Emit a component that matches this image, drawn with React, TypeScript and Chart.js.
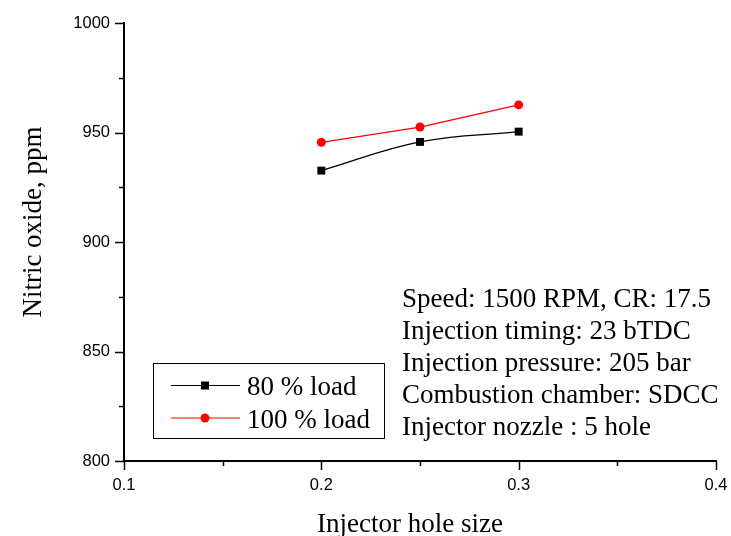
import React, { useEffect, useRef } from 'react';
import { Chart, registerables } from 'chart.js';

Chart.register(...registerables);

// ---- Data ----
const holeSizes = [0.2, 0.25, 0.3];
const nox80Load = [932.6, 945.7, 950.4];
const nox100Load = [945.5, 952.5, 962.6];
const seriesLabels = ['80 % load', '100 % load'];
const xAxisTitle = 'Injector hole size';
const yAxisTitle = 'Nitric oxide, ppm';
const infoLines = [
  'Speed: 1500 RPM, CR: 17.5',
  'Injection timing: 23 bTDC',
  'Injection pressure: 205 bar',
  'Combustion chamber: SDCC',
  'Injector nozzle : 5 hole',
];
const xRange = [0.1, 0.4];
const yRange = [800, 1000];

const SERIF = "'Liberation Serif', 'Times New Roman', serif";
const SANS = "'Liberation Sans', Arial, sans-serif";

const decorPlugin = {
  id: 'decor',
  afterDraw(chart: any) {
    const ctx = chart.ctx;
    const xs = chart.scales.x;
    const ys = chart.scales.y;
    const ca = chart.chartArea;
    ctx.save();
    ctx.strokeStyle = '#000';
    ctx.lineWidth = 1.5;
    // y ticks (major every 50, minor every 25)
    for (let i = 0; i <= 8; i++) {
      const v = yRange[0] + i * 25;
      const p = Math.round(ys.getPixelForValue(v)) + 0.5;
      const len = i % 2 === 0 ? 9 : 5;
      ctx.beginPath();
      ctx.moveTo(ca.left - len, p);
      ctx.lineTo(ca.left, p);
      ctx.stroke();
    }
    // x ticks (major every 0.1, minor every 0.05)
    for (let i = 0; i <= 6; i++) {
      const v = xRange[0] + i * 0.05;
      const p = Math.round(xs.getPixelForValue(v)) + 0.5;
      const len = i % 2 === 0 ? 9 : 5;
      ctx.beginPath();
      ctx.moveTo(p, ca.bottom);
      ctx.lineTo(p, ca.bottom + len);
      ctx.stroke();
    }

    // axis titles
    ctx.fillStyle = '#000';
    ctx.font = `27px ${SERIF}`;
    ctx.textAlign = 'center';
    ctx.textBaseline = 'alphabetic';
    ctx.fillText(xAxisTitle, 410, 532);
    ctx.save();
    ctx.translate(41, 222);
    ctx.rotate(-Math.PI / 2);
    ctx.fillText(yAxisTitle, 0, 0);
    ctx.restore();

    // info text
    ctx.textAlign = 'left';
    infoLines.forEach((line, i) => {
      ctx.fillText(line, 402, 306.5 + i * 32.2);
    });

    // legend
    ctx.lineWidth = 1;
    ctx.strokeStyle = '#000';
    ctx.fillStyle = '#fff';
    ctx.fillRect(153.5, 363.5, 231, 75);
    ctx.strokeRect(153.5, 363.5, 231, 75);
    chart.data.datasets.forEach((ds: any, i: number) => {
      const cy = 385.5 + i * 32.5;
      ctx.strokeStyle = ds.borderColor;
      ctx.lineWidth = 1.2;
      ctx.beginPath();
      ctx.moveTo(171, cy);
      ctx.lineTo(240, cy);
      ctx.stroke();
      ctx.fillStyle = ds.pointBackgroundColor;
      if (ds.pointStyle === 'rect') {
        ctx.fillRect(201, cy - 4, 8, 8);
      } else {
        ctx.beginPath();
        ctx.arc(205, cy, 4.5, 0, Math.PI * 2);
        ctx.fill();
      }
      ctx.fillStyle = '#000';
      ctx.font = `27px ${SERIF}`;
      ctx.fillText(ds.label, 247, cy + 9.5);
    });
    ctx.restore();
  },
};

export default function App() {
  const canvasRef = useRef<HTMLCanvasElement | null>(null);

  useEffect(() => {
    if (!canvasRef.current) return;
    const chart = new Chart(canvasRef.current, {
      type: 'line',
      data: {
        datasets: [
          {
            label: seriesLabels[0],
            data: holeSizes.map((x, i) => ({ x, y: nox80Load[i] })),
            borderColor: '#000000',
            backgroundColor: '#000000',
            pointBackgroundColor: '#000000',
            pointBorderColor: '#000000',
            pointStyle: 'rect',
            pointRadius: 5.6,
            pointBorderWidth: 0,
            borderWidth: 1.3,
            tension: 0.4,
            fill: false,
          },
          {
            label: seriesLabels[1],
            data: holeSizes.map((x, i) => ({ x, y: nox100Load[i] })),
            borderColor: '#ff0000',
            backgroundColor: '#ff0000',
            pointBackgroundColor: '#ff0000',
            pointBorderColor: '#ff0000',
            pointStyle: 'circle',
            pointRadius: 4.5,
            pointBorderWidth: 0,
            borderWidth: 1.3,
            tension: 0,
            fill: false,
          },
        ],
      },
      options: {
        responsive: false,
        animation: false,
        events: [],
        layout: { padding: { top: 23, right: 15, left: 0, bottom: 0 } },
        plugins: {
          legend: { display: false },
          tooltip: { enabled: false },
          title: { display: false },
        },
        scales: {
          x: {
            type: 'linear',
            min: xRange[0],
            max: xRange[1],
            grid: { display: false },
            border: { display: true, color: '#000', width: 2 },
            ticks: {
              stepSize: 0.1,
              color: '#000',
              padding: 7,
              font: { family: SANS, size: 16.5 },
              callback: (v: any) => Number(v).toFixed(1),
            },
            afterFit: (s: any) => {
              s.height = 75;
              s.paddingLeft = 0;
              s.paddingRight = 0;
            },
          },
          y: {
            type: 'linear',
            min: yRange[0],
            max: yRange[1],
            grid: { display: false },
            border: { display: true, color: '#000', width: 2 },
            ticks: {
              stepSize: 50,
              color: '#000',
              padding: 6,
              font: { family: SANS, size: 16.5 },
              callback: (v: any) => String(v),
            },
            afterFit: (s: any) => {
              s.width = 124;
              s.paddingTop = 0;
              s.paddingBottom = 0;
            },
          },
        },
      },
      plugins: [decorPlugin],
    });
    return () => chart.destroy();
  }, []);

  return (
    <div style={{ position: 'fixed', left: 0, top: 0, width: 731, height: 536, background: '#fff' }}>
      <canvas ref={canvasRef} width={731} height={536} />
    </div>
  );
}
